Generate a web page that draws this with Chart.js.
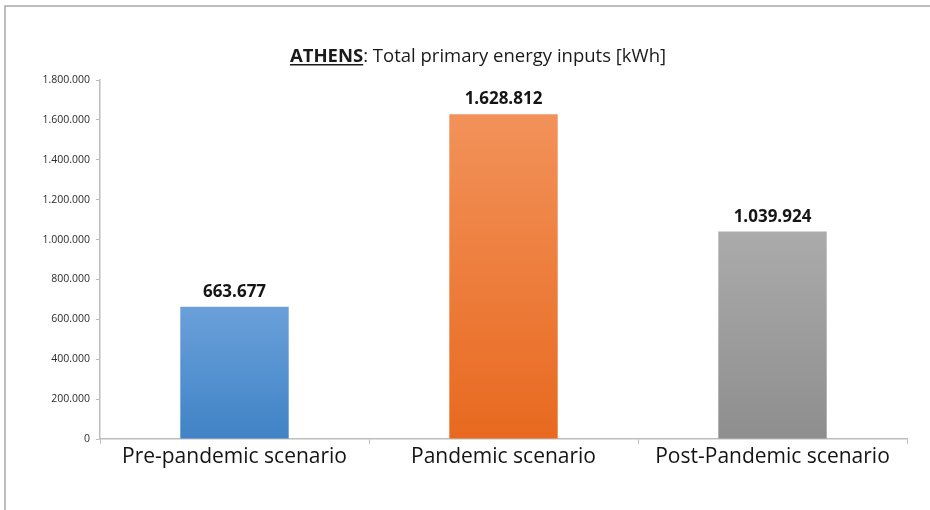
<!DOCTYPE html>
<html>
<head>
<meta charset="utf-8">
<script src="https://cdn.jsdelivr.net/npm/chart.js@4.4.0/dist/chart.umd.min.js"></script>
<style>
  html, body { margin: 0; padding: 0; background: #fff; }
  #wrap { width: 930px; height: 510px; position: relative; }
</style>
</head>
<body>
<div id="wrap"><canvas id="energyChart"></canvas></div>
<script>
// data
const scenarios = ['Pre-pandemic scenario', 'Pandemic scenario', 'Post-Pandemic scenario'];
const energyKWh = [663677, 1628812, 1039924];
const yTicks = [0, 200000, 400000, 600000, 800000, 1000000, 1200000, 1400000, 1600000, 1800000];
// top / bottom colour of each bar's gradient
const colorsTop = ['#6aa0da', '#f2925a', '#ababab'];
const colorsBottom = ['#4083c6', '#e8691f', '#8e8e8e'];

const FONT = '"Open Sans", "DejaVu Sans", sans-serif';

// 1800000 -> "1.800.000"
function fmt(n) {
    return String(Math.round(n)).replace(/\B(?=(\d{3})+(?!\d))/g, '.');
}

function barGradient(c) {
    const chart = c.chart;
    const area = chart.chartArea;
    if (!area) return colorsBottom[c.dataIndex];
    const top = chart.scales.y.getPixelForValue(energyKWh[c.dataIndex]);
    const g = chart.ctx.createLinearGradient(0, top, 0, area.bottom);
    g.addColorStop(0, colorsTop[c.dataIndex]);
    g.addColorStop(1, colorsBottom[c.dataIndex]);
    return g;
}

// frame + title with the underlined "ATHENS"
const decorPlugin = {
    id: 'decor',
    afterDraw(chart) {
        const ctx = chart.ctx;
        ctx.save();
        ctx.strokeStyle = '#a9a9a9';
        ctx.lineWidth = 1.5;
        ctx.beginPath();
        ctx.moveTo(5, 510);
        ctx.lineTo(5, 6);
        ctx.lineTo(932, 6);
        ctx.stroke();

        const boldPart = 'ATHENS';
        const restPart = ': Total primary energy inputs [kWh]';
        ctx.fillStyle = '#1a1a1a';
        ctx.textBaseline = 'alphabetic';
        ctx.font = 'bold 18.5px ' + FONT;
        const wb = ctx.measureText(boldPart).width;
        ctx.font = '18.5px ' + FONT;
        const wr = ctx.measureText(restPart).width;
        const x0 = 478 - (wb + wr) / 2;
        const base = 62;
        ctx.font = 'bold 18.5px ' + FONT;
        ctx.fillText(boldPart, x0, base);
        ctx.fillRect(x0, base + 2, wb, 1.5);
        ctx.font = '18.5px ' + FONT;
        ctx.fillText(restPart, x0 + wb, base);
        ctx.restore();
    }
};

// value labels above the bars
const valueLabels = {
    id: 'valueLabels',
    afterDatasetsDraw(chart) {
        const ctx = chart.ctx;
        const meta = chart.getDatasetMeta(0);
        ctx.save();
        ctx.font = 'bold 17px ' + FONT;
        ctx.fillStyle = '#151515';
        ctx.textAlign = 'center';
        ctx.textBaseline = 'alphabetic';
        meta.data.forEach((bar, i) => {
            ctx.fillText(fmt(energyKWh[i]), bar.x, bar.y - 10);
        });
        ctx.restore();
    }
};

new Chart(document.getElementById('energyChart'), {
    type: 'bar',
    data: {
        labels: scenarios,
        datasets: [{
            data: energyKWh,
            backgroundColor: barGradient,
            borderWidth: 0,
            categoryPercentage: 1,
            barPercentage: 0.403
        }]
    },
    options: {
        responsive: true,
        maintainAspectRatio: false,
        animation: false,
        layout: { padding: { top: 80, right: 23, bottom: 0, left: 0 } },
        plugins: {
            legend: { display: false },
            tooltip: { enabled: false }
        },
        scales: {
            x: {
                offset: true,
                afterFit(scale) { scale.height = 71; },
                grid: {
                    offset: true,
                    drawOnChartArea: false,
                    color: '#bdbdbd',
                    tickLength: 5
                },
                border: { color: '#bdbdbd', width: 1.5 },
                ticks: {
                    color: '#141414',
                    font: { family: FONT, size: 21 },
                    padding: 0,
                    maxRotation: 0
                }
            },
            y: {
                min: 0,
                max: 1800000,
                afterFit(scale) { scale.width = 100; },
                afterBuildTicks(scale) {
                    scale.ticks = yTicks.map(v => ({ value: v }));
                },
                grid: {
                    drawOnChartArea: false,
                    color: '#bdbdbd',
                    tickLength: 4
                },
                border: { color: '#bdbdbd', width: 1.5 },
                ticks: {
                    color: '#2a2a2a',
                    font: { family: FONT, size: 10.5 },
                    padding: 6,
                    callback: v => fmt(v)
                }
            }
        }
    },
    plugins: [decorPlugin, valueLabels]
});
</script>
</body>
</html>
